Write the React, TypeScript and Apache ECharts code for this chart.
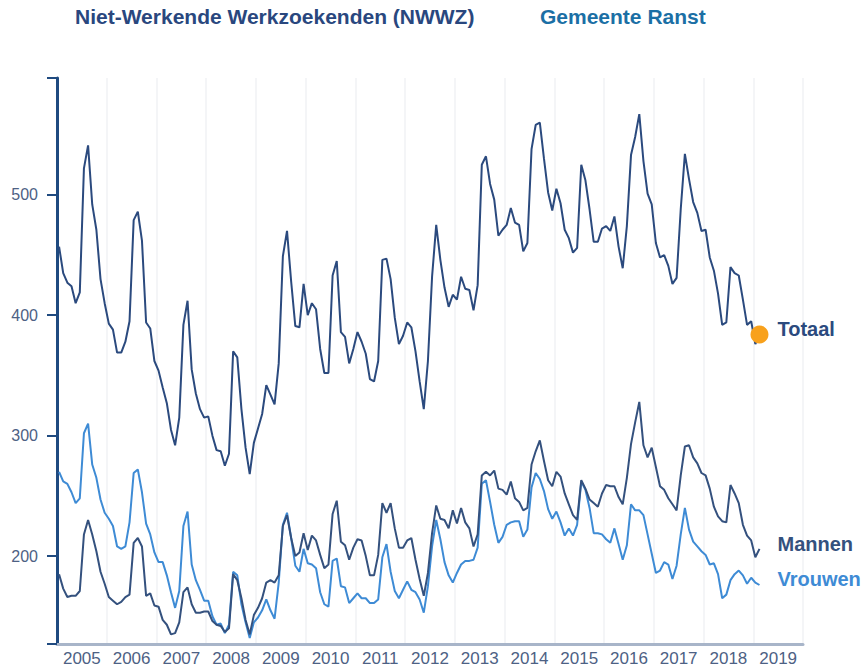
import React, { useEffect, useRef } from "react";
import * as echarts from "echarts";

// Year tick labels (each label sits in the middle of its year band)
const years = ["2005","2006","2007","2008","2009","2010","2011","2012","2013","2014","2015","2016","2017","2018","2019"];

// Monthly values, Jan 2005 .. Feb 2019
const totaal = [
  457, 435, 427, 424, 410, 419, 522, 541, 492, 471, 430, 410,
  393, 388, 369, 369, 378, 395, 479, 486, 462, 394, 389, 362,
  354, 340, 327, 305, 292, 315, 392, 412, 355, 335, 322, 315,
  316, 300, 288, 287, 275, 285, 370, 365, 322, 290, 268, 294,
  306, 318, 342, 334, 326, 360, 449, 470, 428, 391, 390, 426,
  400, 410, 405, 372, 352, 352, 433, 445, 386, 382, 360, 372,
  386, 378, 368, 347, 345, 362, 446, 447, 430, 398, 376, 383,
  394, 390, 370, 345, 322, 362, 432, 475, 446, 423, 407, 417,
  413, 432, 422, 421, 404, 425, 525, 532, 509, 496, 466, 471,
  475, 489, 477, 475, 453, 460, 538, 558, 560, 530, 502, 487,
  505, 493, 471, 464, 452, 456, 525, 512, 488, 461, 461, 472,
  474, 470, 482, 457, 439, 474, 533, 548, 567, 528, 501, 492,
  460, 448, 450, 441, 426, 431, 488, 534, 513, 494, 485, 470,
  471, 448, 437, 418, 392, 394, 440, 435, 433, 413, 392, 395,
  376, 384,
];

const mannen = [
  185, 173, 166, 167, 167, 171, 218, 230, 218, 204, 187, 177,
  166, 163, 160, 162, 166, 168, 211, 215, 208, 167, 169, 159,
  158, 147, 143, 135, 136, 145, 170, 174, 160, 153, 153, 154,
  154, 146, 143, 142, 137, 140, 185, 180, 165, 147, 135, 151,
  157, 165, 178, 180, 178, 184, 225, 234, 215, 200, 203, 219,
  205, 217, 213, 201, 190, 193, 235, 246, 212, 209, 197, 207,
  214, 213, 200, 184, 184, 201, 244, 236, 244, 223, 207, 207,
  213, 215, 197, 181, 167, 186, 219, 242, 231, 230, 223, 238,
  227, 240, 228, 223, 208, 218, 267, 270, 267, 271, 256, 255,
  251, 262, 248, 245, 238, 240, 276, 287, 296, 279, 263, 258,
  270, 266, 252, 243, 234, 230, 263, 256, 247, 244, 241, 252,
  259, 258, 258, 249, 243, 265, 293, 311, 328, 292, 282, 290,
  274, 258, 255, 248, 243, 238, 267, 291, 292, 282, 277, 269,
  267, 256, 241, 233, 229, 228, 259, 252, 244, 226, 217, 213,
  199, 206,
];

const vrouwen = [
  270, 262, 260, 253, 244, 248, 302, 310, 276, 265, 247, 236,
  231, 225, 208, 206, 208, 228, 269, 272, 253, 227, 218, 203,
  195, 195, 184, 170, 157, 171, 225, 237, 193, 180, 172, 163,
  163, 150, 143, 144, 136, 143, 187, 184, 160, 145, 132, 145,
  149, 155, 164, 155, 148, 178, 226, 236, 215, 192, 187, 206,
  194, 193, 190, 170, 160, 158, 196, 198, 175, 174, 161, 165,
  169, 165, 165, 161, 161, 164, 199, 210, 187, 171, 165, 172,
  179, 172, 170, 164, 153, 175, 208, 230, 214, 195, 184, 178,
  186, 193, 196, 196, 197, 207, 260, 263, 245, 226, 211, 216,
  226, 228, 229, 229, 216, 222, 257, 269, 264, 254, 239, 231,
  237, 228, 217, 223, 217, 226, 262, 255, 240, 219, 219, 218,
  214, 211, 223, 210, 197, 209, 243, 238, 238, 234, 218, 202,
  186, 188, 195, 193, 181, 192, 218, 240, 222, 212, 208, 204,
  201, 193, 194, 185, 165, 168, 180, 185, 188, 184, 177, 182,
  178, 176,
];

const yTicks = [127, 200, 300, 400, 500, 597];
const yLabels = [200, 300, 400, 500];

const FONT = '"Liberation Sans", Arial, Helvetica, sans-serif';
const NAVY = "#2b4a7e";
const MANNEN = "#34517e";
const VROUWEN = "#3e8bd5";

const toPoints = (arr: number[]) => arr.map((v, i) => [i + 0.5, v]);

export default function App() {
  const ref = useRef<HTMLDivElement | null>(null);

  useEffect(() => {
    if (!ref.current) return;
    const chart = echarts.init(ref.current, undefined, { renderer: "svg" });
    const last = totaal.length - 1;
    const option: any = {
      animation: false,
      backgroundColor: "#ffffff",
      grid: { left: 57, right: 63, top: 78, bottom: 21, containLabel: false },
      graphic: [
        {
          type: "text",
          left: 75,
          top: 6,
          style: { text: "Niet-Werkende Werkzoekenden (NWWZ)", fill: "#29477e", font: `bold 21px ${FONT}` },
        },
        {
          type: "text",
          left: 540,
          top: 6,
          style: { text: "Gemeente Ranst", fill: "#1b6fa5", font: `bold 21px ${FONT}` },
        },
      ],
      xAxis: [
        {
          type: "value",
          min: 0,
          max: 180,
          interval: 12,
          position: "bottom",
          axisLine: { show: true, onZero: false, lineStyle: { color: "#a8b5c9", width: 3 } },
          axisTick: { show: false },
          axisLabel: { show: false },
          splitLine: { show: true, lineStyle: { color: "#f4f5f7", width: 2 } },
        },
        {
          type: "category",
          data: years,
          position: "bottom",
          boundaryGap: true,
          axisLine: { show: false },
          axisTick: { show: false },
          splitLine: { show: false },
          axisLabel: { color: "#4d6184", fontSize: 17, margin: 6, fontFamily: FONT },
        },
      ],
      yAxis: {
        type: "value",
        min: 127,
        max: 597,
        axisLine: { show: true, lineStyle: { color: "#1f4a80", width: 3 } },
        axisTick: { show: true, length: 10, lineStyle: { color: "#1f4a80", width: 2 }, customValues: yTicks },
        axisLabel: { color: "#4d6184", fontSize: 16, margin: 19, fontFamily: FONT, customValues: yLabels },
        splitLine: { show: false },
      },
      series: [
        {
          type: "line",
          name: "Vrouwen",
          xAxisIndex: 0,
          data: toPoints(vrouwen),
          symbol: "none",
          lineStyle: { color: VROUWEN, width: 2 },
          emphasis: { disabled: true },
          endLabel: {
            show: true,
            formatter: "Vrouwen",
            color: VROUWEN,
            fontSize: 20,
            fontWeight: "bold",
            fontFamily: FONT,
            distance: 18,
            offset: [0, -6],
          },
        },
        {
          type: "line",
          name: "Mannen",
          xAxisIndex: 0,
          data: toPoints(mannen),
          symbol: "none",
          lineStyle: { color: MANNEN, width: 2 },
          emphasis: { disabled: true },
          endLabel: {
            show: true,
            formatter: "Mannen",
            color: MANNEN,
            fontSize: 20,
            fontWeight: "bold",
            fontFamily: FONT,
            distance: 18,
            offset: [0, -5],
          },
        },
        {
          type: "line",
          name: "Totaal",
          xAxisIndex: 0,
          data: toPoints(totaal),
          symbol: "none",
          lineStyle: { color: NAVY, width: 2 },
          emphasis: { disabled: true },
          endLabel: {
            show: true,
            formatter: "Totaal",
            color: NAVY,
            fontSize: 20,
            fontWeight: "bold",
            fontFamily: FONT,
            distance: 18,
            offset: [0, -6],
          },
        },
        {
          type: "scatter",
          xAxisIndex: 0,
          data: [[last + 0.5, totaal[last]]],
          symbol: "circle",
          symbolSize: 18,
          itemStyle: { color: "#f8a11c", opacity: 1 },
          emphasis: { disabled: true },
          z: 5,
        },
      ],
    };
    chart.setOption(option);
    return () => chart.dispose();
  }, []);

  return (
    <div
      ref={ref}
      style={{ position: "absolute", left: 0, top: 0, width: 866, height: 667, background: "#fff" }}
    />
  );
}
